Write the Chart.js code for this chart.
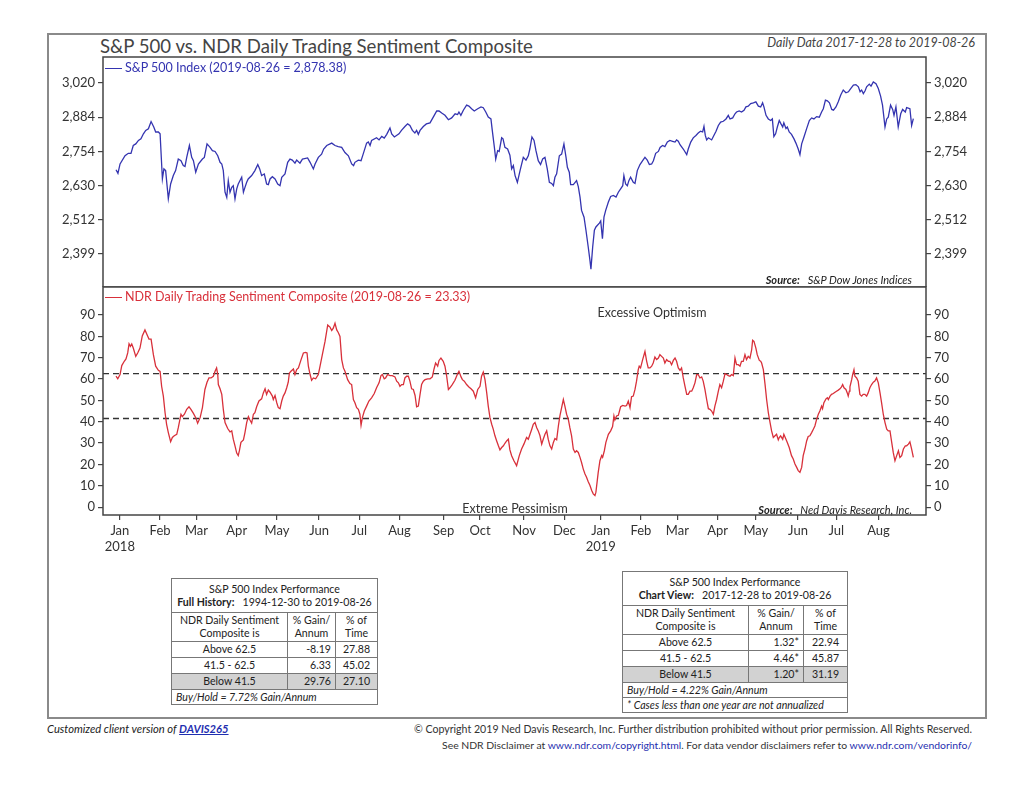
<!DOCTYPE html>
<html>
<head>
<meta charset="utf-8">
<title>S&amp;P 500 vs. NDR Daily Trading Sentiment Composite</title>
<script src="https://cdn.jsdelivr.net/npm/chart.js@4.4.1/dist/chart.umd.min.js"></script>
<style>
  html, body { margin: 0; padding: 0; background: #fff; }
  #page { position: relative; width: 1024px; height: 791px; font-family: "Lato", sans-serif; color: #333; overflow: hidden; }
  .abs { position: absolute; white-space: nowrap; line-height: 1; }
  canvas { position: absolute; }
  table.perf { position: absolute; border-collapse: collapse; table-layout: fixed; font-size: 10.6px; color: #222; border: 1.5px solid #444; background: #fff; }
  table.perf td { border: 1px solid #777; padding: 0 4px; line-height: 13px; white-space: nowrap; overflow: hidden; }
  table.perf .c { text-align: center; }
  table.perf .r { text-align: right; }
  table.perf .shade td { background: #d2d2d2; }
  table.perf .note { font-style: italic; text-align: left; }
  a { color: #1f2fb0; }
</style>
</head>
<body>
<div id="page">
  <div class="abs" style="left:47px;top:33px;width:936px;height:682px;border:2px solid #8a8a8a;"></div>

  <div class="abs" style="left:100px;top:37px;font-size:18.6px;color:#444;">S&amp;P 500 vs. NDR Daily Trading Sentiment Composite</div>
  <div class="abs" style="right:49px;top:37px;font-size:12.5px;font-style:italic;color:#444;">Daily Data 2017-12-28 to 2019-08-26</div>

  <canvas id="spxChart" width="950" height="233" style="left:40px;top:54px;"></canvas>
  <canvas id="sentChart" width="950" height="273" style="left:40px;top:286px;"></canvas>

  <div class="abs" style="left:105px;top:68px;width:17px;border-top:1.5px solid #3434b0;"></div>
  <div class="abs" style="left:125px;top:62px;font-size:12.5px;color:#3434b0;">S&amp;P 500 Index (2019-08-26 = 2,878.38)</div>
  <div class="abs" style="right:112px;top:274px;font-size:11px;font-style:italic;color:#222;"><b>Source:</b>&nbsp;&nbsp; S&amp;P Dow Jones Indices</div>

  <div class="abs" style="left:105px;top:297px;width:17px;border-top:1.5px solid #d8303a;"></div>
  <div class="abs" style="left:125px;top:291px;font-size:12.5px;color:#d8303a;">NDR Daily Trading Sentiment Composite (2019-08-26 = 23.33)</div>
  <div class="abs" style="left:652px;top:307px;font-size:12.5px;color:#333;transform:translateX(-50%);">Excessive Optimism</div>
  <div class="abs" style="left:515px;top:503px;font-size:12.5px;color:#333;transform:translateX(-50%);">Extreme Pessimism</div>
  <div class="abs" style="right:112px;top:504px;font-size:11px;font-style:italic;color:#222;"><b>Source:</b>&nbsp;&nbsp; Ned Davis Research, Inc.</div>

  <table class="perf" id="tblFull" style="left:171px;top:578px;width:206px;">
    <colgroup><col style="width:116px"><col style="width:48px"><col style="width:42px"></colgroup>
  </table>
  <table class="perf" id="tblView" style="left:622px;top:571px;width:225px;">
    <colgroup><col style="width:126px"><col style="width:55px"><col style="width:44px"></colgroup>
  </table>

  <div class="abs" style="left:47px;top:723px;font-size:11.2px;font-style:italic;color:#222;">Customized client version of <a href="#" style="font-weight:bold;">DAVIS265</a></div>
  <div class="abs" style="right:52px;top:724px;font-size:10.6px;color:#333;">&copy; Copyright 2019 Ned Davis Research, Inc. Further distribution prohibited without prior permission. All Rights Reserved.</div>
  <div class="abs" style="right:52px;top:740px;font-size:10.4px;color:#333;">See NDR Disclaimer at <a href="#" style="text-decoration:none;">www.ndr.com/copyright.html</a>. For data vendor disclaimers refer to <a href="#" style="text-decoration:none;">www.ndr.com/vendorinfo/</a></div>
</div>

<script>
// trading days counted from 2017-12-28 (= 0)
var spxDays = [0,1,2.1,4.7,6.4,7.8,9,10.3,11.7,13,14.3,15.5,16.9,18.3,19.7,20.7,22.1,23,24.2,25,25.9,27.3,28.5,29.9,31.1,32.5,33.9,35.1,36,36.9,38.3,39.5,40.4,41.6,43,45.1,46.1,47.5,49.1,50.3,51.7,53.1,54.3,55.2,56,56.9,57.8,58.6,59.5,60.4,61.2,62.1,63,63.8,65.6,66.5,67.3,68.2,69,70.8,72.5,74,75,76,77.4,78.6,79.5,80.4,81.6,83,84.4,85.6,86.5,88.2,89.6,90.8,92,93.4,94.3,96,97.3,100,101.3,103,103.9,105.6,107.3,108.4,110,112.6,114.3,116,117.8,119.5,121.3,123,124,124.7,126.5,127.9,129,130.8,131.7,132.6,133.4,136,137.3,138.7,140,141.3,143,143.9,145.3,147.7,149,150.8,152.2,153.4,154.7,156,156.9,157.8,158.7,160.4,162,163.9,165.6,167.4,168.6,170,171.7,173.5,175.2,177,178.3,179,180,181.3,183,184.2,185.6,187,188.8,190.5,191.7,193,194.3,195.7,196.4,197.5,198.2,199.2,200,201.3,202,203,204.4,205.6,206.5,207.4,208.3,209.5,210.9,212.6,214,215.2,216,217.1,218.2,219.2,220.4,221.6,222.7,223.9,225.1,226.2,227.4,228.3,229.1,230,231.4,232.6,233.8,234.9,235.6,236.6,237.3,238.7,240.4,241.3,242.2,243,244.3,245.3,246.5,247.4,247.9,248.8,249.7,250.5,252.3,253,253.9,254.7,255.6,257,258.2,259.6,261,262.2,263.4,264.5,265.1,266,266.9,267.7,268.6,270,270.9,272.1,273.5,274.9,276.1,277.3,278.4,279.6,280.5,281.7,283.1,284,285.3,286.5,287.8,289.1,290.5,291.8,292.6,293.5,294.4,296.1,297.9,298.7,300,301.3,302.7,303.9,305.1,306.2,306.9,307.6,308.3,309.2,310.9,311.8,313.2,314.4,315.6,317,318.4,319.6,320.5,321.9,323.1,323.9,325.3,326.5,327.8,328.8,330,331.3,332.7,334,335.3,336.5,337.5,338.2,339.3,340.5,341.7,342.6,343.4,344.3,345.2,346.2,347.1,348,348.6,349.7,350.4,351.4,352.6,353.9,354.9,356.1,357,357.9,359.1,360.5,361.9,363.1,364.3,365.7,367.1,368.3,369.2,370.3,371.3,372.4,373.6,374.5,375.8,377,378.3,379.6,381,382.3,383.5,384.9,386.2,387.5,388.4,389.2,390.1,391,391.8,393.2,394.1,395.3,396.7,397.9,399.1,400.1,401.4,402.3,403.1,404.3,405.4,406.1,407.1,408.3,409.6,410.6,412,412.7,414.4,415.3,416.2];
var spxValues = [2687,2674,2708,2738,2747,2747,2776,2782,2795,2801,2820,2833,2839,2867,2846,2827,2827,2820,2654,2690,2684,2584,2636,2666,2684,2726,2720,2702,2699,2732,2776,2732,2720,2678,2708,2726,2732,2782,2769,2757,2754,2738,2714,2708,2684,2607,2589,2648,2607,2624,2630,2584,2619,2636,2660,2607,2624,2642,2654,2666,2684,2706,2690,2666,2672,2636,2634,2654,2662,2654,2636,2630,2660,2672,2714,2726,2722,2711,2722,2711,2726,2730,2714,2690,2708,2732,2744,2763,2776,2785,2776,2772,2769,2750,2738,2708,2702,2714,2722,2720,2744,2785,2789,2776,2795,2805,2797,2810,2804,2818,2842,2820,2808,2820,2833,2848,2858,2852,2833,2823,2833,2818,2833,2848,2858,2862,2884,2908,2908,2900,2891,2874,2881,2897,2894,2904,2891,2911,2931,2927,2917,2908,2917,2924,2921,2904,2884,2877,2833,2769,2726,2757,2754,2805,2801,2769,2763,2740,2690,2702,2666,2642,2684,2732,2722,2738,2763,2808,2795,2757,2720,2706,2726,2732,2690,2642,2638,2630,2660,2672,2738,2744,2782,2732,2696,2678,2634,2634,2648,2627,2590,2544,2521,2477,2421,2378,2351,2421,2477,2488,2501,2508,2449,2521,2544,2573,2592,2596,2590,2607,2619,2630,2666,2636,2630,2648,2660,2642,2638,2684,2706,2720,2732,2722,2706,2708,2720,2747,2754,2769,2776,2772,2789,2795,2792,2789,2797,2792,2779,2763,2742,2763,2789,2805,2814,2823,2830,2827,2848,2814,2797,2805,2797,2810,2830,2852,2865,2868,2877,2891,2877,2881,2897,2904,2908,2904,2911,2924,2927,2937,2940,2944,2927,2924,2940,2924,2891,2877,2871,2877,2810,2820,2846,2871,2858,2846,2862,2840,2846,2827,2818,2801,2785,2763,2742,2782,2808,2840,2871,2881,2877,2886,2884,2904,2917,2951,2948,2940,2914,2911,2924,2944,2971,2991,2980,2984,2997,3011,3013,3004,2984,2991,2977,2988,3004,3015,3007,3024,3017,2997,2967,2931,2846,2877,2884,2931,2914,2891,2924,2846,2897,2914,2904,2921,2917,2852,2878];

var sentDays = [0,0.9,2.1,3,4.3,5.2,6.1,6.8,7.5,8.2,9,10.3,11.3,12.5,13.7,15.1,16.2,17.2,18.3,19.5,20.7,22.1,23,23.8,24.7,25.6,26.4,27.3,28.5,29.4,30.4,31.7,32.5,33.9,34.6,35.7,36.9,38.1,39.1,40.4,41.6,42.6,43.9,45.1,46.4,47.5,48.5,49.6,50.8,51.7,52.5,53.1,53.4,54.3,55.2,56,56.9,58.3,59.5,60.4,61.2,62.1,63,63.8,64.4,65.2,66.5,67.3,68.2,69.1,69.9,70.8,71.7,72.5,73.4,74.6,76,76.9,77.8,78.6,79.5,80.4,81.6,82.1,83,83.9,84.7,85.6,86.5,87.3,88.2,89.1,89.9,90.5,91.3,92.6,93.4,94.3,95.2,96.6,97.8,99,99.7,100.4,101.3,102.1,103,104.2,105.6,106.5,107.7,109.1,110.5,111.7,112.6,113.4,114.3,115.2,116,116.9,117.8,118.7,119.5,120.9,122.1,123,123.9,124.7,125.6,126.5,127.3,127.9,128.6,129.6,130.8,132,133.4,134.8,136,137.3,138.3,139,140,140.7,141.8,143,144.2,145.6,146.5,147.4,148.2,149.1,150,150.8,151.7,152.6,153.4,154.3,155.2,156.1,156.9,157.8,158.7,159.5,160.4,161.3,162.7,163.9,165.1,166,166.8,167.9,168.6,169.6,170.8,171.7,172.6,173.5,174.3,175.5,176.9,178.3,179,180.1,180.8,181.8,183,184.2,185.3,186.5,187.7,188.8,190,190.8,191.7,192.6,193.5,194.3,195.2,196.1,196.9,197.8,198.7,199.6,200.4,201.3,202.2,203,203.9,204.8,205.6,206.5,207.7,209.1,210.5,211.7,212.9,214.3,215.2,216.1,217,217.8,218.7,219.6,220.4,221.3,222.2,223,223.9,224.8,225.6,226.5,227.4,228.3,229.1,230,230.9,231.7,232.6,233.5,234.3,235.2,236.1,236.9,237.8,238.7,239.6,240.4,241.3,242.2,243,243.9,244.8,245.6,246.5,247.4,248.3,249.1,250,250.5,251.2,251.7,252.6,253.5,254,254.9,255.7,257,258.2,259.2,259.9,260.4,261.3,262.2,263.4,264.5,265.7,266.5,267.4,268.3,269.1,270,270.9,271.7,272.6,273.1,273.8,274.9,276.1,277,277.8,278.7,279.6,280.4,281.3,282.2,283.1,283.9,284.8,285.7,286.5,287.4,288.3,289.1,290,290.9,291.8,292.6,293.5,294.4,295.2,296.1,297,297.9,298.7,299.6,300.5,301.3,302.2,303.1,303.9,304.8,305.7,306.5,307.4,308.3,309.2,310,310.9,311.8,312.6,313.5,314.4,315.2,316.1,317,317.9,318.7,319.6,320.5,321.3,322.2,323.1,323.9,324.8,325.7,326.5,327.4,328.3,329.1,330,330.9,331.8,332.3,333,334,334.7,335.8,336.5,337,337.9,338.8,339.6,340.5,341.4,342.2,343.1,344,344.8,345.7,346.2,346.9,348,348.6,349.7,350.4,351.4,352.6,353.5,354.4,355.3,356.1,357,357.9,358.7,359.6,360.5,361.3,362.2,363.1,364,364.8,365.7,366.6,367.4,368.3,368.8,369.5,370.6,371.3,371.8,372.7,373.5,374.4,375.3,376.1,377,377.9,378.7,379.3,380,381,381.7,382.2,382.8,383.1,384,384.5,385.2,385.7,386.6,387.4,388.3,389.2,390,390.9,391.8,392.6,393.5,394.4,395.3,396.1,397,397.9,398.8,399.6,400.5,401.4,402.3,403.1,404,404.9,405.7,406.6,407.5,408.4,409.2,410.1,411,412,412.7,413.6,414.4,415.3,416.2];
var sentValues = [61.3,60.1,62.1,66.3,68.3,69.4,72.2,76.5,75.3,76.4,74.5,70.6,72.2,74.5,80.2,83,80.7,78.7,78.7,71.4,66,64.1,63.6,56.6,52,44.2,38.8,34.9,30.6,32.6,33.4,34.1,37.2,43.5,42.4,43.5,45.8,47,45.8,43.9,41.9,39.3,41.9,46.6,55.1,58.5,60.5,60.5,61.3,63.6,65.2,62.1,57.4,55.4,52.8,45.8,39.6,36.8,35.2,35.7,31.8,28.7,25.3,24.1,26.4,30.3,31.5,34.9,39.6,42.4,40.8,39.3,43.5,44.2,47,49.7,50.7,53.5,55.4,52.8,54.8,53.8,52,50.4,52.3,48.9,46.6,46.1,49.7,52,53.5,55.9,58.5,62.8,63.6,64.7,62.1,64.4,65.2,69.1,72.2,72.5,72.2,66,62.1,59.4,60.5,60.1,62.1,66,71.4,77.6,85.3,84.3,82.7,83.8,86.1,83,81.8,79.9,69.1,65.2,63.6,59.7,57.9,57.4,50.4,48.9,46.6,45.8,43.5,38.3,41.9,45,47.3,49.7,51.2,53.2,55.9,58.2,61.6,62.1,60.1,60.5,62.1,61.6,61.6,61,59,58.2,56.6,57.4,57.4,60.5,61.3,61.3,59,55.4,55.1,52.3,47,47.3,52.8,57.4,59,59.7,60.1,60.1,61,64.7,67.5,66,68.7,69.8,68.3,66,61.3,55.1,55.9,57.4,59.4,62.5,63.6,61,59.7,59,57.4,56.3,55.4,54.3,51.2,55.1,56.6,61.3,63.2,59.7,53.5,47.3,41.9,38.8,36.5,33.4,31,28.7,26.8,27.9,28.7,29.9,31,31.8,26.8,24.1,21.7,19.4,24.1,27.2,29.5,32.6,31.8,34.1,36.5,38.8,39.6,37.2,35.7,33.4,29.5,31.8,34.1,35.7,31.8,28.7,27.2,30.3,32.1,31.5,38,42.7,46.6,50.4,47.3,43.5,41.1,37.2,33.4,27.2,25.6,26.4,25.6,23.3,20.9,17.8,15.5,14,11.9,10.1,7.8,6.2,5.4,7,12.4,16.3,21.7,24.1,23.3,26.4,30.3,34.1,35.7,37.7,42.7,40.8,42.7,43,47,47.6,47.3,47.6,49.7,46.6,51.7,52,55.1,59,64.4,66,65.2,69.1,72.9,68.3,65.2,65.2,66,67.5,70.3,69.1,69.8,71.4,70.6,69.8,67.5,69.1,68.3,68.3,66.7,68.7,69.8,68.3,65.2,64.1,65.2,60.5,56.6,52.8,52.8,54.3,54.3,55.9,58.2,62.1,62.1,60.5,61,59,55.1,50.4,46.1,45.8,45,43.5,47.3,50.4,54.3,57.4,55.9,59,62.5,62.1,61.6,61.3,62.1,61.6,69.8,66.7,66.7,66,68.3,68.3,71.4,69.1,70.6,69.8,73.7,78.1,77.6,74.5,71.4,68.7,68.3,67.5,64.4,57.4,50.4,44.2,39.6,35.7,32.6,33.4,34.1,31.5,32.6,33.4,31.8,34.1,31.8,30.3,27.9,24.1,22.5,20.2,18.6,17.1,16.3,18.6,24.1,27.2,31,33.1,33.4,34.9,36.5,38,41.1,43.5,45,47.3,46.1,48.9,50.7,51.2,50.4,52,52.8,53.2,53.8,54.3,54.8,55.4,56.3,57.4,55.9,55.1,53.5,52,54.3,56.3,59.7,62.1,64.4,61.3,60.5,59,52.8,52,52.8,52.8,52,53.5,55.9,57.4,58.5,59,60.5,58.2,53.5,48.9,43.5,39.6,36.5,35.7,35.7,30.3,25.6,21.7,24.1,26.4,23.3,24.1,27.2,28.7,28.7,29.5,30.6,27.2,23.3];

var sentThresholds = [62.5, 41.5];
var spxTicks = [2399, 2512, 2630, 2754, 2884, 3020];
var sentTicks = [0, 10, 20, 30, 40, 50, 60, 70, 80, 90];
var monthTickDays = [2, 23, 42, 63, 84, 106, 127, 148, 171, 190, 213, 234, 253, 274, 293, 314, 334, 356, 376, 398];
var monthLabels = ["Jan","Feb","Mar","Apr","May","Jun","Jul","Aug","Sep","Oct","Nov","Dec","Jan","Feb","Mar","Apr","May","Jun","Jul","Aug"];
var yearLabels = ["2018","","","","","","","","","","","","2019","","","","","","",""];

var fullHistoryRows = [["Above 62.5","-8.19","27.88"],["41.5 - 62.5","6.33","45.02"],["Below 41.5","29.76","27.10"]];
var chartViewRows = [["Above 62.5","1.32*","22.94"],["41.5 - 62.5","4.46*","45.87"],["Below 41.5","1.20*","31.19"]];

var X_MIN = -6.8, X_MAX = 422.8;
var SPX_MIN = 2295, SPX_MAX = 3127;
var SENT_MIN = -3.7, SENT_MAX = 103.1;

var tickFont = { family: "Lato", size: 13 };
var axisInk = "#444";

var framePlugin = {
    id: "frame",
    afterDraw: function (chart) {
        var a = chart.chartArea, ctx = chart.ctx;
        ctx.save();
        ctx.strokeStyle = axisInk;
        ctx.lineWidth = 1.5;
        ctx.strokeRect(a.left, a.top, a.right - a.left, a.bottom - a.top);
        ctx.restore();
    }
};

function yAxis(pos, type, min, max, ticks, fmt) {
    return {
        type: type,
        position: pos,
        min: min,
        max: max,
        afterBuildTicks: function (s) { s.ticks = ticks.map(function (v) { return { value: v }; }); },
        afterFit: function (s) { s.width = pos === "left" ? 63 : 64; s.paddingTop = 0; s.paddingBottom = 0; },
        ticks: { autoSkip: false, font: tickFont, color: "#333", padding: 3, callback: fmt },
        grid: { drawOnChartArea: false, drawTicks: true, tickLength: 5, color: axisInk, lineWidth: 1.2 },
        border: { display: false }
    };
}

function commaFmt(v) { return Number(v).toLocaleString("en-US"); }
function plainFmt(v) { return String(v); }

function toPoints(xs, ys) {
    return xs.map(function (x, i) { return { x: x, y: ys[i] }; });
}

var spxChart = new Chart(document.getElementById("spxChart"), {
    type: "line",
    data: {
        datasets: [{
            data: toPoints(spxDays, spxValues),
            borderColor: "#3434b0",
            borderWidth: 1.3,
            pointRadius: 0,
            tension: 0,
            yAxisID: "y"
        }]
    },
    options: {
        responsive: false,
        animation: false,
        layout: { padding: { top: 3, bottom: 0, left: 0, right: 0 } },
        plugins: { legend: { display: false }, tooltip: { enabled: false } },
        scales: {
            x: { type: "linear", min: X_MIN, max: X_MAX, display: false },
            y: yAxis("left", "logarithmic", SPX_MIN, SPX_MAX, spxTicks, commaFmt),
            yR: yAxis("right", "logarithmic", SPX_MIN, SPX_MAX, spxTicks, commaFmt)
        }
    },
    plugins: [framePlugin]
});

var sentDatasets = [{
    data: toPoints(sentDays, sentValues),
    borderColor: "#d8303a",
    borderWidth: 1.3,
    pointRadius: 0,
    tension: 0,
    order: 0,
    yAxisID: "y"
}];
sentThresholds.forEach(function (t) {
    sentDatasets.push({
        data: [{ x: X_MIN, y: t }, { x: X_MAX, y: t }],
        borderColor: "#333",
        borderWidth: 1.3,
        borderDash: [6, 4],
        pointRadius: 0,
        order: 1,
        yAxisID: "y"
    });
});

var sentChart = new Chart(document.getElementById("sentChart"), {
    type: "line",
    data: { datasets: sentDatasets },
    options: {
        responsive: false,
        animation: false,
        layout: { padding: { top: 1, bottom: 0, left: 0, right: 0 } },
        plugins: { legend: { display: false }, tooltip: { enabled: false } },
        scales: {
            x: {
                type: "linear",
                min: X_MIN,
                max: X_MAX,
                afterBuildTicks: function (s) { s.ticks = monthTickDays.map(function (v) { return { value: v }; }); },
                afterFit: function (s) { s.height = 44; s.paddingLeft = 0; s.paddingRight = 0; },
                ticks: {
                    autoSkip: false, maxRotation: 0, padding: 3, font: tickFont, color: "#333",
                    callback: function (v, i) { return yearLabels[i] ? [monthLabels[i], yearLabels[i]] : monthLabels[i]; }
                },
                grid: { drawOnChartArea: false, drawTicks: true, tickLength: 5, color: axisInk, lineWidth: 1.2 },
                border: { display: false }
            },
            y: yAxis("left", "linear", SENT_MIN, SENT_MAX, sentTicks, plainFmt),
            yR: yAxis("right", "linear", SENT_MIN, SENT_MAX, sentTicks, plainFmt)
        }
    },
    plugins: [framePlugin]
});

// performance tables
function buildTable(id, headHtml, rows, footRows) {
    var t = document.getElementById(id), h = "";
    h += '<tr style="height:34px"><td colspan="3" class="c">' + headHtml + "</td></tr>";
    h += '<tr style="height:29px"><td class="c">NDR Daily Sentiment<br>Composite is</td><td class="c">% Gain/<br>Annum</td><td class="c">% of<br>Time</td></tr>';
    rows.forEach(function (r, i) {
        h += '<tr style="height:16px"' + (i === rows.length - 1 ? ' class="shade"' : "") + '><td class="c">' + r[0] + '</td><td class="r">' + r[1] + '</td><td class="c">' + r[2] + "</td></tr>";
    });
    footRows.forEach(function (f) {
        h += '<tr style="height:15px"><td colspan="3" class="note">' + f + "</td></tr>";
    });
    t.insertAdjacentHTML("beforeend", h);
}
buildTable("tblFull", "S&amp;P 500 Index Performance<br><b>Full History:</b>&nbsp;&nbsp; 1994-12-30 to 2019-08-26", fullHistoryRows, ["Buy/Hold = 7.72% Gain/Annum"]);
buildTable("tblView", "S&amp;P 500 Index Performance<br><b>Chart View:</b>&nbsp;&nbsp; 2017-12-28 to 2019-08-26", chartViewRows, ["Buy/Hold = 4.22% Gain/Annum", "* Cases less than one year are not annualized"]);
</script>
</body>
</html>
